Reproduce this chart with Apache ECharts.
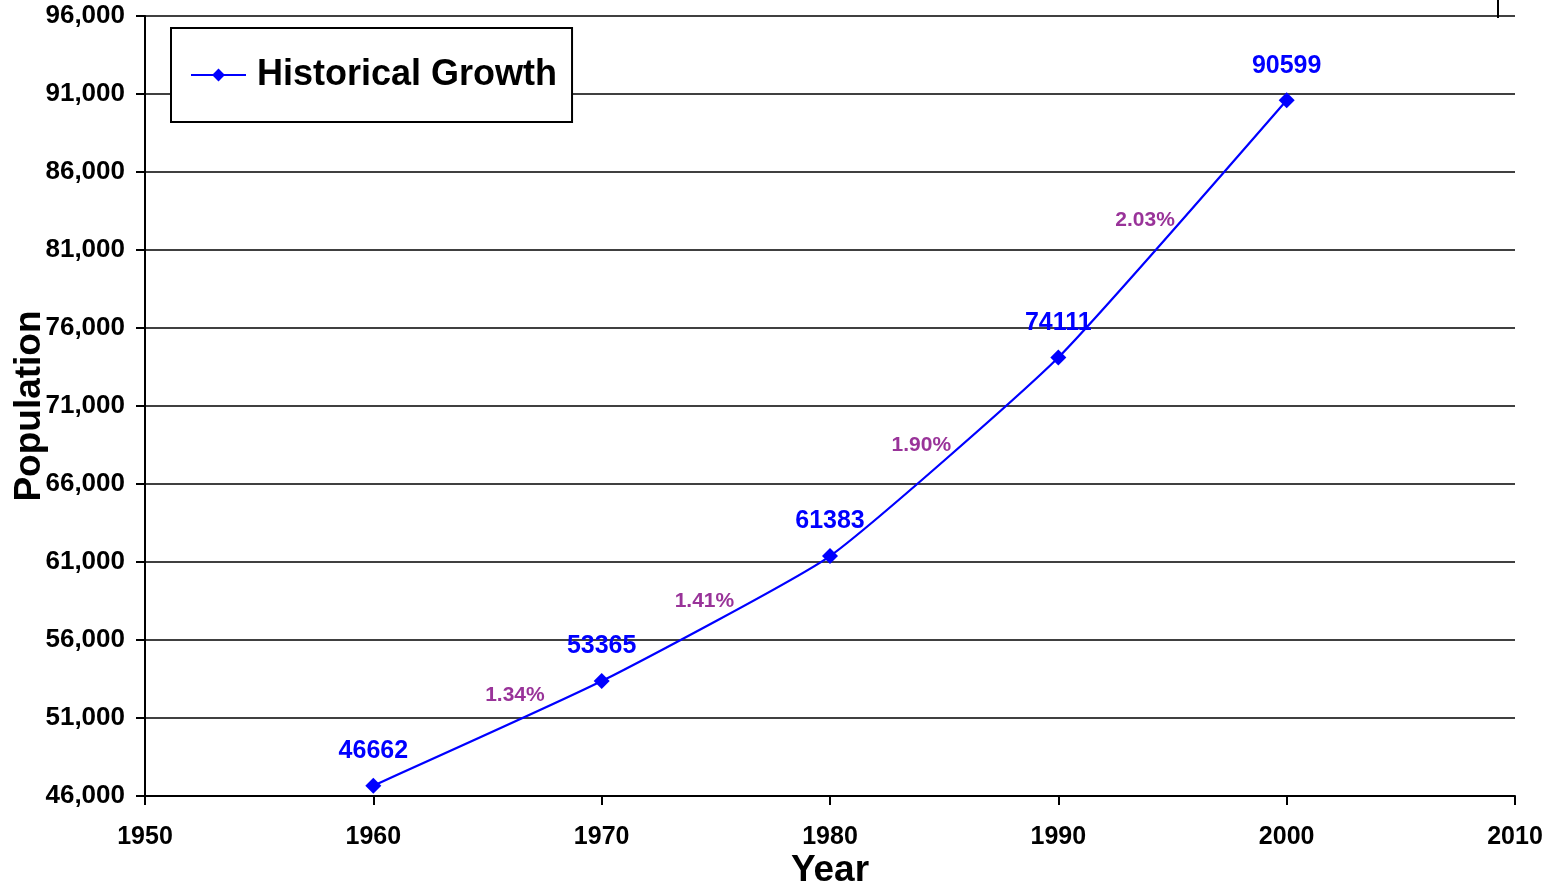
<!DOCTYPE html>
<html>
<head>
<meta charset="utf-8">
<script src="https://cdn.jsdelivr.net/npm/echarts@6/dist/echarts.min.js"></script>
<style>
  html, body { margin: 0; padding: 0; background: #fff; }
  #chart { width: 1554px; height: 890px; }
</style>
</head>
<body>
<div id="chart"></div>
<script>
// census years and population
const years = [1960, 1970, 1980, 1990, 2000];
const population = [46662, 53365, 61383, 74111, 90599];

// growth rate labels, placed between the census points
const rateLabels = ['1.34%', '1.41%', '1.90%', '2.03%'];
const rateX = [1966.2, 1974.5, 1984.0, 1993.8];
const rateY = [52470, 58500, 68500, 82900];

const font = '"Liberation Sans", Arial, sans-serif';

var chart = echarts.init(document.getElementById('chart'));

chart.setOption({
  backgroundColor: '#fff',
  animation: false,
  textStyle: { fontFamily: font },
  grid: { left: 145, right: 39, top: 16, bottom: 94, containLabel: false, outerBoundsMode: 'none' },
  legend: {
    data: ['Historical Growth'],
    left: 171,
    top: 28,
    orient: 'horizontal',
    backgroundColor: '#fff',
    borderColor: '#000',
    borderWidth: 2,
    borderRadius: 0,
    padding: [29, 15, 29, 19],
    itemWidth: 55,
    itemHeight: 16,
    textStyle: { fontSize: 36, fontWeight: 'bold', color: '#000', fontFamily: font, padding: [0, 0, 0, 6] }
  },
  xAxis: {
    type: 'value',
    min: 1950,
    max: 2010,
    interval: 10,
    name: 'Year',
    nameLocation: 'middle',
    nameGap: 56,
    nameMoveOverlap: false,
    nameTextStyle: { fontSize: 37, fontWeight: 'bold', color: '#000', fontFamily: font },
    axisLine: { show: true, lineStyle: { color: '#000', width: 2 } },
    axisTick: { show: true, length: 9, lineStyle: { color: '#000', width: 2 } },
    axisLabel: {
      margin: 29, fontSize: 25, fontWeight: 'bold', color: '#000', fontFamily: font,
      formatter: v => String(v)
    },
    splitLine: { show: false }
  },
  yAxis: {
    type: 'value',
    min: 46000,
    max: 96000,
    interval: 5000,
    name: 'Population',
    nameLocation: 'middle',
    nameGap: 97,
    nameMoveOverlap: false,
    nameTextStyle: { fontSize: 37, fontWeight: 'bold', color: '#000', fontFamily: font },
    axisLine: { show: true, lineStyle: { color: '#000', width: 2 } },
    axisTick: { show: true, length: 9, lineStyle: { color: '#000', width: 2 } },
    axisLabel: {
      margin: 20, fontSize: 26, fontWeight: 'bold', color: '#000', fontFamily: font,
      formatter: v => v.toLocaleString('en-US')
    },
    splitLine: { show: true, lineStyle: { color: '#000', width: 1.6 } }
  },
  series: [
    {
      name: 'Historical Growth',
      type: 'line',
      data: years.map((y, i) => [y, population[i]]),
      smooth: 0.15,
      symbol: 'diamond',
      symbolSize: 16,
      lineStyle: { color: '#0000ff', width: 2.2 },
      itemStyle: { color: '#0000ff' },
      label: {
        show: true,
        position: 'top',
        distance: 14,
        fontSize: 25,
        fontWeight: 'bold',
        color: '#0000ff',
        fontFamily: font,
        formatter: p => String(p.value[1])
      },
      z: 3
    },
    {
      name: 'rates',
      type: 'scatter',
      data: rateX.map((x, i) => [x, rateY[i]]),
      symbolSize: 0,
      silent: true,
      label: {
        show: true,
        position: 'inside',
        fontSize: 21,
        fontWeight: 'bold',
        color: '#800080',
        fontFamily: font,
        formatter: p => rateLabels[p.dataIndex]
      },
      z: 4
    }
  ],
  graphic: [
    { type: 'line', shape: { x1: 1498, y1: 0, x2: 1498, y2: 18 }, style: { stroke: '#000', lineWidth: 2 } }
  ]
});
</script>
</body>
</html>
